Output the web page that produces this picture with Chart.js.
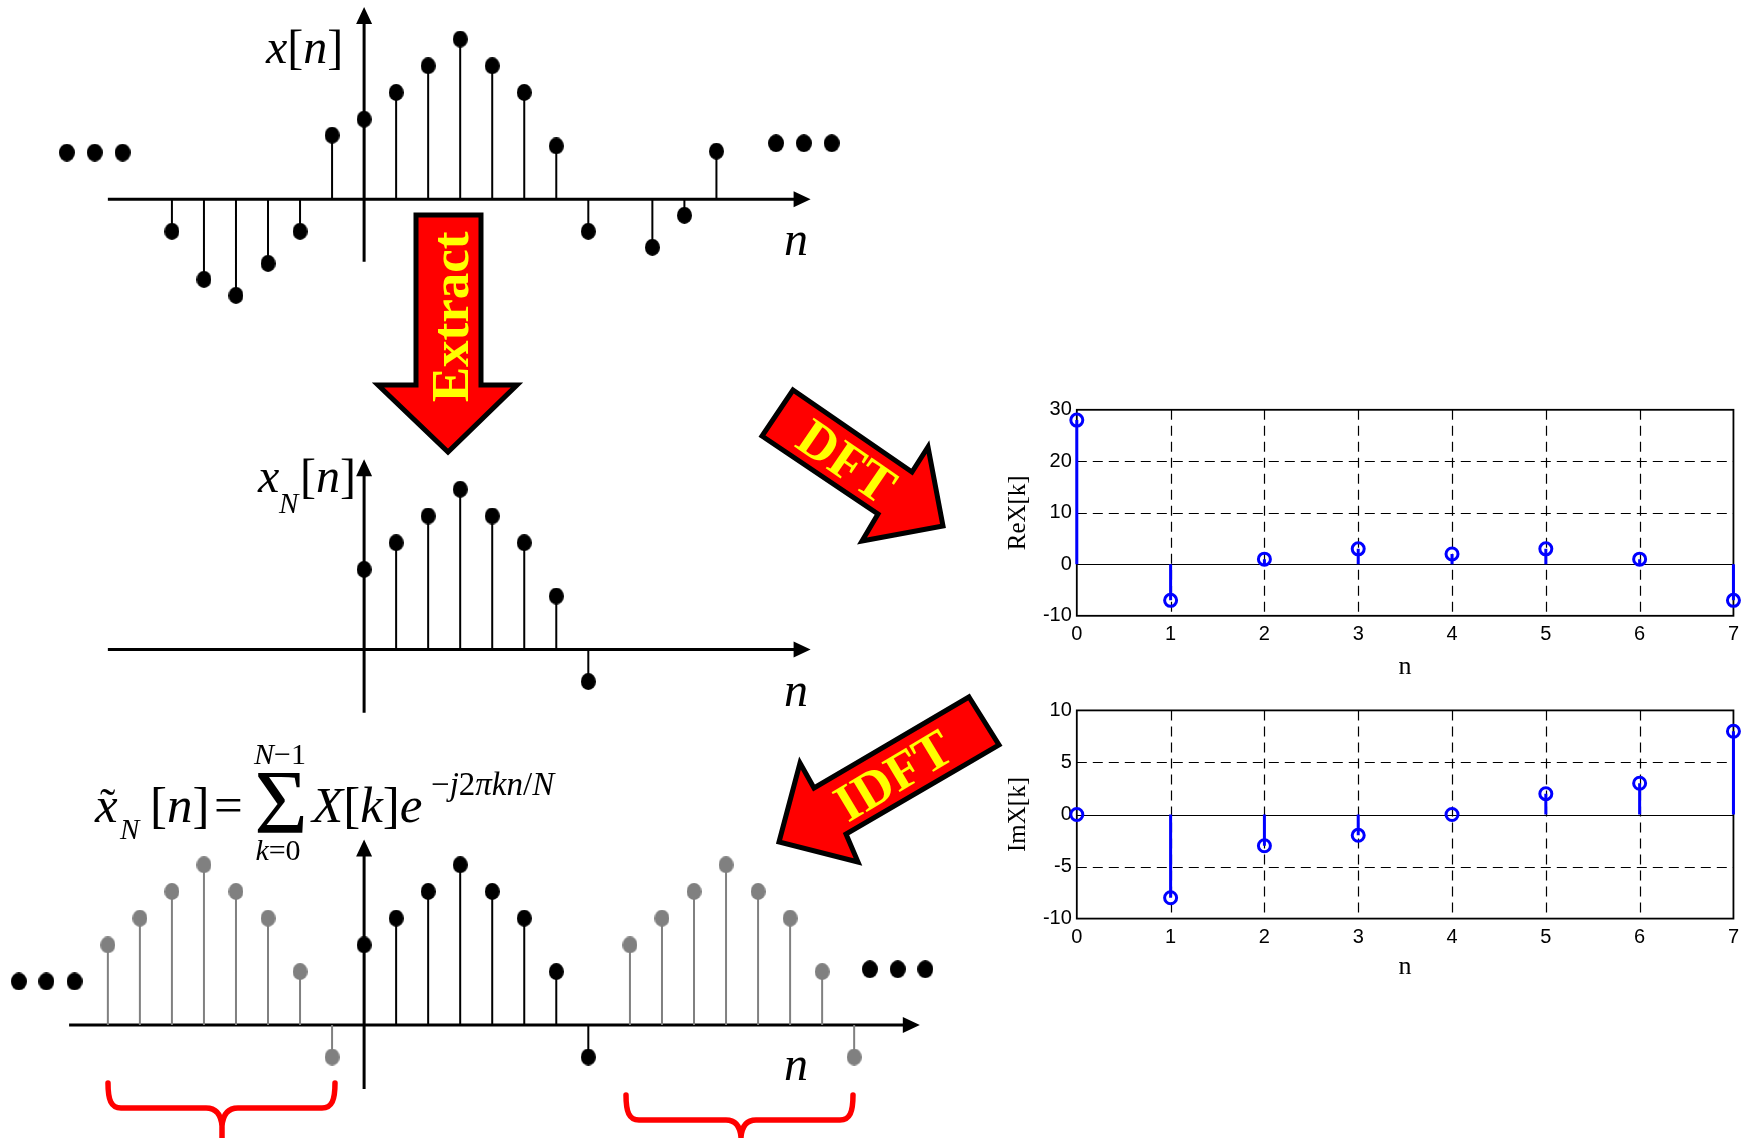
<!DOCTYPE html>
<html>
<head>
<meta charset="utf-8">
<script src="https://cdn.jsdelivr.net/npm/chart.js@4.4.1/dist/chart.umd.min.js"></script>
<style>
  html, body { margin: 0; padding: 0; background: #fff; }
  #page { position: relative; width: 1746px; height: 1138px; overflow: hidden; }
  canvas { position: absolute; }
  svg { position: absolute; left: 0; top: 0; pointer-events: none; }
  .it { font-style: italic; }
</style>
</head>
<body>
<div id="page">
  <canvas id="seqTop" width="990" height="320" style="left:0;top:0"></canvas>
  <canvas id="seqMid" width="990" height="320" style="left:0;top:420px"></canvas>
  <canvas id="seqPer" width="990" height="358" style="left:0;top:780px"></canvas>
  <canvas id="dftRe" width="747" height="307" style="left:999px;top:380px"></canvas>
  <canvas id="dftIm" width="747" height="297" style="left:999px;top:690px"></canvas>

  <svg width="1746" height="1138" viewBox="0 0 1746 1138" font-family="'Liberation Serif', 'Times New Roman', serif">
    <!-- block arrows -->
    <g fill="#FF0000" stroke="#000" stroke-width="5" stroke-linejoin="miter">
      <polygon points="416,215 481,215 481,385 517,385 448,452 378,385 416,385"/>
      <polygon points="793,390 912,472 928,447 943,526 862,541 878,514 762,436"/>
      <polygon points="969,697 999,745 846,834 858,862 779,842 800,763 814,788"/>
    </g>
    <g fill="#FFFF00" font-weight="bold" font-size="53" text-anchor="middle" dominant-baseline="central">
      <text transform="translate(450,317) rotate(-90)">Extract</text>
      <text transform="translate(847,461) rotate(34.5)">DFT</text>
      <text transform="translate(893,775) rotate(-31)">IDFT</text>
    </g>

    <!-- braces under the repeated copies -->
    <g fill="none" stroke="#FF0000" stroke-width="5.5" stroke-linecap="round">
      <path d="M108,1083 C108,1100 111,1108 121,1108 L206,1108 C216,1108 221,1114 222,1126 L222,1142 M335,1083 C335,1100 332,1108 322,1108 L238,1108 C228,1108 223,1114 222,1126"/>
      <path d="M626,1095 C626,1112 629,1120 639,1120 L726,1120 C735,1120 740,1126 741,1137 L741,1142 M853,1095 C853,1112 850,1120 840,1120 L756,1120 C747,1120 742,1126 741,1137"/>
    </g>

    <!-- sequence labels -->
    <g fill="#000" font-size="48">
      <text x="266" y="63"><tspan class="it">x</tspan>[<tspan class="it">n</tspan>]</text>
      <text x="784" y="255" class="it">n</text>

      <text x="258" y="492" class="it">x</text>
      <text x="279" y="513" class="it" font-size="29">N</text>
      <text x="300" y="492">[<tspan class="it">n</tspan>]</text>
      <text x="784" y="706" class="it">n</text>

      <text x="784" y="1080" class="it">n</text>
    </g>

    <!-- synthesis formula -->
    <g fill="#000">
      <text x="95" y="822" font-size="51" class="it">x</text>
      <text x="100" y="820" font-size="46">˜</text>
      <text x="120" y="839" font-size="29" class="it">N</text>
      <text x="150" y="822" font-size="51">[<tspan class="it">n</tspan>]</text>
      <text x="214" y="822" font-size="51">=</text>
      <text x="281" y="833" font-size="92" text-anchor="middle">Σ</text>
      <text x="280" y="764" font-size="30" text-anchor="middle"><tspan class="it">N</tspan>−1</text>
      <text x="278" y="860" font-size="30" text-anchor="middle"><tspan class="it">k</tspan>=0</text>
      <text x="312" y="822" font-size="51"><tspan class="it">X</tspan>[<tspan class="it">k</tspan>]<tspan class="it">e</tspan></text>
      <text x="431" y="795" font-size="33">−<tspan class="it">j</tspan>2<tspan class="it">πkn</tspan>/<tspan class="it">N</tspan></text>
    </g>
  </svg>
</div>

<script>
// x[n] as sketched (n = 8 is zero and left out)
const nTop = [-6, -5, -4, -3, -2, -1, 0, 1, 2, 3, 4, 5, 6, 7, 9, 10, 11];
const xTop = [-1.2, -3.0, -3.6, -2.4, -1.2, 2.4, 3, 4, 5, 6, 5, 4, 2, -1.2, -1.8, -0.6, 1.8];

// one period, N = 8
const nBlock = [0, 1, 2, 3, 4, 5, 6, 7];
const xBlock = [3, 4, 5, 6, 5, 4, 2, -1.2];

// neighbouring periods in the bottom sketch
const nPrevCopy = [-8, -7, -6, -5, -4, -3, -2, -1];
const nNextCopy = [8.3, 9.3, 10.3, 11.3, 12.3, 13.3, 14.3, 15.3];

// "..." continuation dots
const dotsTopLeftX = [-9.28, -8.41, -7.54];
const dotsTopRightX = [12.86, 13.73, 14.6];
const dotsPerLeftX = [-10.78, -9.92, -9.04];
const dotsPerRightX = [15.79, 16.66, 17.52];

// DFT of the extracted block
const kBins = [0, 1, 2, 3, 4, 5, 6, 7];
const reX = [28, -7, 1, 3, 2, 3, 1, -7];
const imX = [0, -8, -3, -2, 0, 2, 3, 8];

const pts = (xs, ys) => xs.map((x, i) => ({ x: x, y: Array.isArray(ys) ? ys[i] : ys }));

// slightly tall filled dot used as point style
function dot(color, w, h) {
  const c = document.createElement('canvas');
  c.width = w; c.height = h;
  const g = c.getContext('2d');
  g.fillStyle = color;
  g.beginPath();
  g.ellipse(w / 2, h / 2, w / 2, h / 2, 0, 0, Math.PI * 2);
  g.fill();
  return c;
}
const blackDot = dot('#000', 15, 17);
const grayDot = dot('#808080', 15, 17);
const bigDot = dot('#000', 16, 18);

// vertical stems from zero to every point of a dataset
const stemPlugin = {
  id: 'stems',
  beforeDatasetsDraw(chart) {
    const ctx = chart.ctx;
    const y0 = chart.scales.y.getPixelForValue(0);
    chart.data.datasets.forEach((ds, i) => {
      if (!ds.stemColor) return;
      const meta = chart.getDatasetMeta(i);
      ctx.save();
      ctx.strokeStyle = ds.stemColor;
      ctx.lineWidth = ds.stemWidth || 2;
      ctx.beginPath();
      meta.data.forEach(p => { ctx.moveTo(p.x, y0); ctx.lineTo(p.x, p.y); });
      ctx.stroke();
      ctx.restore();
    });
  }
};

// hand-drawn style axes with arrow heads, crossing at the origin
const arrowAxes = {
  id: 'arrowAxes',
  beforeDatasetsDraw(chart, args, opts) {
    const { ctx, scales: { x, y } } = chart;
    const x1 = x.getPixelForValue(opts.xFrom), x2 = x.getPixelForValue(opts.xTo);
    const y1 = y.getPixelForValue(opts.yFrom), y2 = y.getPixelForValue(opts.yTo);
    const ox = x.getPixelForValue(0), oy = y.getPixelForValue(0);
    ctx.save();
    ctx.strokeStyle = '#000';
    ctx.fillStyle = '#000';
    ctx.lineWidth = 3;
    ctx.beginPath();
    ctx.moveTo(x1, oy); ctx.lineTo(x2 - 10, oy);
    ctx.moveTo(ox, y1); ctx.lineTo(ox, y2 + 10);
    ctx.stroke();
    ctx.beginPath();
    ctx.moveTo(x2, oy); ctx.lineTo(x2 - 17, oy - 8); ctx.lineTo(x2 - 17, oy + 8); ctx.closePath();
    ctx.moveTo(ox, y2); ctx.lineTo(ox - 8, y2 + 17); ctx.lineTo(ox + 8, y2 + 17); ctx.closePath();
    ctx.fill();
    ctx.restore();
  }
};

// dashed grid, zero baseline and frame, matlab style
const matlabBox = {
  id: 'matlabBox',
  beforeDatasetsDraw(chart) {
    const { ctx, chartArea: a, scales: { x, y } } = chart;
    ctx.save();
    ctx.strokeStyle = '#000';
    ctx.lineWidth = 1.2;
    ctx.setLineDash([10, 6]);
    ctx.beginPath();
    x.ticks.forEach(t => {
      if (t.value <= x.min || t.value >= x.max) return;
      const px = Math.round(x.getPixelForValue(t.value)) + 0.5;
      ctx.moveTo(px, a.top); ctx.lineTo(px, a.bottom);
    });
    y.ticks.forEach(t => {
      if (t.value <= y.min || t.value >= y.max || t.value === 0) return;
      const py = Math.round(y.getPixelForValue(t.value)) + 0.5;
      ctx.moveTo(a.left, py); ctx.lineTo(a.right, py);
    });
    ctx.stroke();
    ctx.setLineDash([]);
    const zy = Math.round(y.getPixelForValue(0)) + 0.5;
    ctx.beginPath();
    ctx.moveTo(a.left, zy); ctx.lineTo(a.right, zy);
    ctx.stroke();
    ctx.lineWidth = 1.8;
    ctx.strokeRect(a.left, a.top, a.right - a.left, a.bottom - a.top);
    ctx.restore();
  }
};

// sketch geometry: origin column at 364.1px, 32.03px per sample, 26.7px per unit
const originX = 364.1, stepX = 32.03, unitY = 26.7, sketchW = 990;

function sketch(id, top, height, axisY, datasets, axes) {
  return new Chart(document.getElementById(id), {
    type: 'scatter',
    data: { datasets: datasets },
    options: {
      responsive: false,
      animation: false,
      events: [],
      layout: { padding: 0, autoPadding: false },
      plugins: { legend: { display: false }, tooltip: { enabled: false }, arrowAxes: axes },
      scales: {
        x: { type: 'linear', display: false, min: -originX / stepX, max: (sketchW - originX) / stepX },
        y: { type: 'linear', display: false, min: -(top + height - axisY) / unitY, max: (axisY - top) / unitY }
      }
    },
    plugins: [arrowAxes, stemPlugin]
  });
}

function samples(xs, ys, color, img) {
  return {
    data: pts(xs, ys),
    stemColor: color, stemWidth: 2,
    pointStyle: img, pointRadius: 8
  };
}

function ellipsis(xs, y) {
  return { data: pts(xs, y), pointStyle: bigDot, pointRadius: 9 };
}

sketch('seqTop', 0, 320, 199.3, [
  samples(nTop, xTop, '#000', blackDot),
  ellipsis(dotsTopLeftX, 1.75),
  ellipsis(dotsTopRightX, 2.1)
], { xFrom: -8.0, xTo: 13.94, yFrom: -2.34, yTo: 7.2 });

sketch('seqMid', 420, 320, 649.5, [
  samples(nBlock, xBlock, '#000', blackDot)
], { xFrom: -8.0, xTo: 13.94, yFrom: -2.37, yTo: 7.13 });

sketch('seqPer', 780, 358, 1025, [
  samples(nPrevCopy, xBlock, '#808080', grayDot),
  samples(nNextCopy, xBlock, '#808080', grayDot),
  samples(nBlock, xBlock, '#000', blackDot),
  ellipsis(dotsPerLeftX, 1.63),
  ellipsis(dotsPerRightX, 2.09)
], { xFrom: -9.21, xTo: 17.35, yFrom: -2.4, yTo: 6.95 });

const tickFont = { family: "'Liberation Sans', Arial, sans-serif", size: 20 };
const titleFont = { family: "'Liberation Serif', 'Times New Roman', serif", size: 26 };

function dftPlot(id, values, yMin, yMax, yStep, yTitle, padTop, xAxisH) {
  return new Chart(document.getElementById(id), {
    type: 'scatter',
    data: {
      datasets: [{
        data: pts(kBins, values),
        stemColor: '#0000FF', stemWidth: 3,
        pointRadius: 6, pointBorderWidth: 3,
        pointBorderColor: '#0000FF',
        pointBackgroundColor: 'rgba(0,0,0,0)',
        clip: false
      }]
    },
    options: {
      responsive: false,
      animation: false,
      events: [],
      layout: { padding: { top: padTop, right: 12.3, left: 0, bottom: 0 }, autoPadding: false },
      plugins: { legend: { display: false }, tooltip: { enabled: false } },
      scales: {
        x: {
          type: 'linear', min: 0, max: 7,
          ticks: { stepSize: 1, padding: 7, color: '#000', font: tickFont },
          grid: { display: false, drawTicks: false },
          border: { display: false },
          title: { display: true, text: 'n', color: '#000', font: titleFont },
          afterFit(s) { s.height = xAxisH; }
        },
        y: {
          type: 'linear', min: yMin, max: yMax,
          ticks: { stepSize: yStep, padding: 5, color: '#000', font: tickFont },
          grid: { display: false, drawTicks: false },
          border: { display: false },
          title: { display: true, text: yTitle, color: '#000', font: { family: titleFont.family, size: 25 } },
          afterFit(s) { s.width = 77.8; }
        }
      }
    },
    plugins: [matlabBox, stemPlugin]
  });
}

dftPlot('dftRe', reX, -10, 30, 10, 'ReX[k]', 29.8, 71.2);
dftPlot('dftIm', imX, -10, 10, 5, 'ImX[k]', 20.4, 68.4);
</script>
</body>
</html>
